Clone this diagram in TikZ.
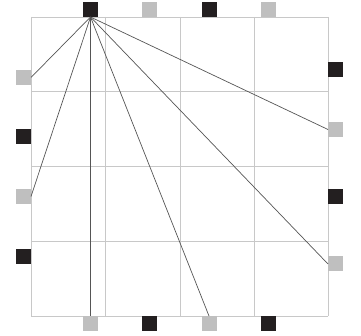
\documentclass[tikz,border=0pt]{standalone}
\usepackage{tikz}
\usetikzlibrary{positioning}
\usepackage{xcolor}
\definecolor{darksq}{HTML}{231F20}
\definecolor{lightsq}{HTML}{BFBFBF}
\definecolor{gridgray}{HTML}{C8C8C8}
\definecolor{linkgray}{HTML}{555555}
\begin{document}
\begin{tikzpicture}[
  x=1pt, y=-1pt,
  sqdark/.style={fill=darksq, draw=none, minimum size=15pt, inner sep=0pt},
  sqlight/.style={fill=lightsq, draw=none, minimum size=15pt, inner sep=0pt},
  gridln/.style={draw=gridgray, line width=0.9pt},
  link/.style={draw=linkgray, line width=0.7pt}
]
\useasboundingbox (0,0) rectangle (361,336);
% board
\foreach \g in {31,105.5,180,254.25,328}{
  \draw[gridln] (\g,17) -- (\g,316);
}
\foreach \h in {17,91.75,166.5,241.25,316}{
  \draw[gridln] (31,\h) -- (328,\h);
}
% top row
\node[sqdark, anchor=south] (t1) at (90.5,17) {};
\node[sqlight, anchor=south] (t2) at (149.5,17) {};
\node[sqdark, anchor=south] (t3) at (209,17) {};
\node[sqlight, anchor=south] (t4) at (268.5,17) {};
% left column
\node[sqlight, anchor=east] (l1) at (31,77.5) {};
\node[sqdark, anchor=east] (l2) at (31,136.5) {};
\node[sqlight, anchor=east] (l3) at (31,196.5) {};
\node[sqdark, anchor=east] (l4) at (31,256.5) {};
% right column
\node[sqdark, anchor=west] (r1) at (328,70) {};
\node[sqlight, anchor=west] (r2) at (328,129.5) {};
\node[sqdark, anchor=west] (r3) at (328,196.5) {};
\node[sqlight, anchor=west] (r4) at (328,264) {};
% bottom row
\node[sqlight, anchor=north] (b1) at (90.5,316) {};
\node[sqdark, anchor=north] (b2) at (149.5,316) {};
\node[sqlight, anchor=north] (b3) at (209,316) {};
\node[sqdark, anchor=north] (b4) at (268.5,316) {};
% links from the top square
\draw[link] (t1.south) -- (l1.east);
\draw[link] (t1.south) -- (l3.east);
\draw[link] (t1.south) -- (b1.north);
\draw[link] (t1.south) -- (b3.north);
\draw[link] (t1.south) -- (r4.west);
\draw[link] (t1.south) -- (r2.west);
\end{tikzpicture}
\end{document}
